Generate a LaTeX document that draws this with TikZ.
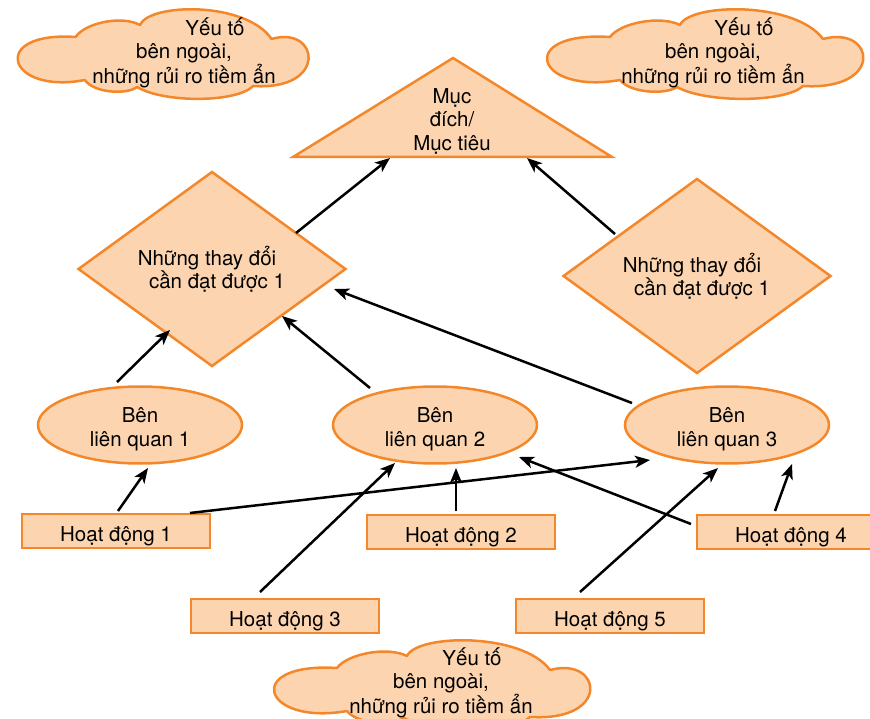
\documentclass[tikz,border=0pt]{standalone}
\usepackage{fontspec}
\setmainfont{TeX Gyre Heros}
\usepackage{tikz}
\usetikzlibrary{arrows.meta,calc,shapes.geometric}
\definecolor{peach}{HTML}{FCD5B0}
\definecolor{tangerine}{HTML}{F4872A}

\begin{document}
\begin{tikzpicture}[x=1pt,y=1pt,
  every node/.style={font=\fontsize{20.5}{23.5}\selectfont, align=center},
  shp/.style={draw=tangerine, fill=peach, line width=2.5pt},
  blob/.pic={\path[shp, line join=round] (-85,-27)
      .. controls (-170,-42) and (-190,22) .. (-95,16)
      .. controls (-85,30) and (-45,38) .. (-25,28)
      .. controls (-15,50) and (90,52) .. (118,14)
      .. controls (170,28) and (180,-38) .. (98,-33)
      .. controls (80,-50) and (0,-50) .. (-28,-34)
      .. controls (-40,-42) and (-75,-40) .. cycle;},
  rhomb/.style={shp, diamond, minimum width=268pt, minimum height=163pt, inner sep=0pt},
  party/.style={shp, ellipse, minimum width=204pt, minimum height=77pt, inner sep=0pt, text height=42pt, text depth=0pt},
  act/.style={shp, rectangle, minimum width=188pt, minimum height=34pt, inner sep=0pt, text height=20pt, text depth=0pt},
  arr/.style={-{Stealth[length=15pt,width=12pt,inset=4pt]}, line width=2.5pt}]
\useasboundingbox (0,0) rectangle (870,-719);
\clip (0,0) rectangle (870,-719);

\pic[xscale=0.92] (c1) at (163,-53) {blob};
\node (c1txt) at (184,-53) {\hspace*{62pt}Yếu tố\\bên ngoài,\\những rủi ro tiềm ẩn};
\pic (c2) at (705,-53) {blob};
\node (c2txt) at (713,-53) {\hspace*{62pt}Yếu tố\\bên ngoài,\\những rủi ro tiềm ẩn};
\pic (c3) at (432,-684) {blob};
\node (c3txt) at (441,-683) {\hspace*{62pt}Yếu tố\\bên ngoài,\\những rủi ro tiềm ẩn};

\draw[shp] (453,-58) -- (612,-157) -- (293,-157) -- cycle;
\node (goal) at (452,-121) {Mục\\đích/\\Mục tiêu};

\node[rhomb] (d1) at (212,-269) {Những thay đổi\hspace*{10pt}\\\hspace*{10pt}cần đạt được 1};
\node[rhomb] (d2) at (697,-276) {Những thay đổi\hspace*{10pt}\\\hspace*{10pt}cần đạt được 1};

\node[party] (e1) at (140,-425) {Bên\\liên quan 1};
\node[party] (e2) at (435,-425) {Bên\\liên quan 2};
\node[party] (e3) at (727,-425) {Bên\\liên quan 3};

\node[act] (h1) at (116,-531) {Hoạt động 1};
\node[act] (h2) at (461,-532) {Hoạt động 2};
\node[act] (h3) at (285,-616) {Hoạt động 3};
\node[act] (h4) at (791,-532) {Hoạt động 4};
\node[act] (h5) at (610,-616) {Hoạt động 5};

\draw[arr] ($(d1)+(84,36)$) -- ($(goal)+(-62,-37)$);
\draw[arr] ($(d2)+(-82,42)$) -- ($(goal)+(75,-37)$);
\draw[arr] ($(e1)+(-23,43)$) -- ($(d1)+(-42,-61)$);
\draw[arr] ($(e2)+(-65,37)$) -- ($(d1)+(70,-47)$);
\draw[arr] ($(e3)+(-95,22)$) -- ($(d1)+(122,-20)$);
\draw[arr] ($(h1)+(2,20)$) -- ($(e1)+(8,-43)$);
\draw[arr] ($(h1)+(74,18)$) -- ($(e3)+(-77,-35)$);
\draw[arr] ($(h2)+(-5,21)$) -- ($(e2)+(21,-43)$);
\draw[arr] ($(h3)+(-25,24)$) -- ($(e2)+(-40,-38)$);
\draw[arr] ($(h4)+(-100,8)$) -- ($(e2)+(84,-32)$);
\draw[arr] ($(h4)+(-16,21)$) -- ($(e3)+(65,-39)$);
\draw[arr] ($(h5)+(-30,24)$) -- ($(e3)+(-9,-43)$);
\end{tikzpicture}
\end{document}
